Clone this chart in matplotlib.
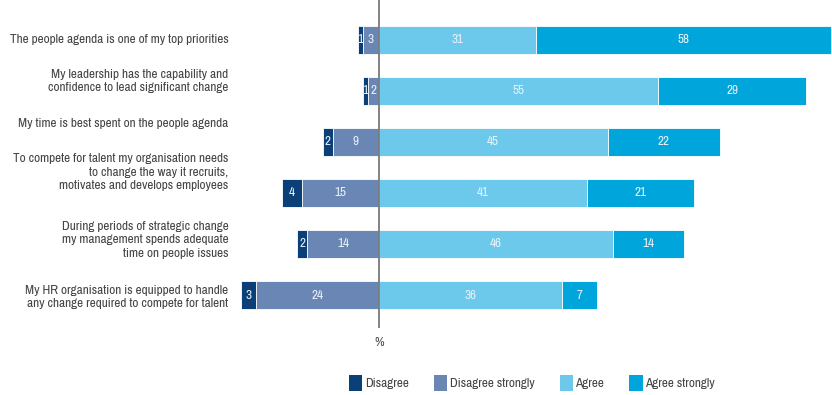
import matplotlib
matplotlib.use("Agg")
import matplotlib.pyplot as plt
from matplotlib import font_manager
from matplotlib.patches import Patch

statements = [
    "The people agenda is one of my top priorities",
    "My leadership has the capability and\nconfidence to lead significant change",
    "My time is best spent on the people agenda",
    "To compete for talent my organisation needs\nto change the way it recruits,\nmotivates and develops employees",
    "During periods of strategic change\nmy management spends adequate\ntime on people issues",
    "My HR organisation is equipped to handle\nany change required to compete for talent",
]
disagree = [1, 1, 2, 4, 2, 3]
disagree_strongly = [3, 2, 9, 15, 14, 24]
agree = [31, 55, 45, 41, 46, 36]
agree_strongly = [58, 29, 22, 21, 14, 7]

series_names = ["Disagree", "Disagree strongly", "Agree", "Agree strongly"]
colors = ["#0b3f78", "#6a86b4", "#6cc9eb", "#00a5dc"]

# statement labels don't sit exactly on their bars; vertical nudge in row units
label_shift = [0.0, -0.19, -0.37, -0.41, -0.08, 0.04]

# narrow sans face, first one installed wins
installed = {f.name for f in font_manager.fontManager.ttflist}
narrow_pref = ["Liberation Sans Narrow", "Archivo Narrow", "PT Sans Narrow",
               "Roboto Condensed", "Pragati Narrow", "Open Sans Condensed"]
narrow = [n for n in narrow_pref if n in installed]
plt.rcParams["font.family"] = narrow[:1] + ["Liberation Sans", "DejaVu Sans"]
text_grey = "#444444"

fig = plt.figure(figsize=(8.32, 3.95), dpi=100)
W, H = 832, 395
ax = fig.add_axes([231 / W, 1 - 328 / H, (W - 231) / W, 328 / H])

rows = list(range(len(statements)))
bar_h = 0.53
edge = dict(edgecolor="white", linewidth=0.6)

# left side: strongly-disagree sits next to the axis, plain disagree outside it
ax.barh(rows, [-v for v in disagree_strongly], height=bar_h, color=colors[1], **edge)
ax.barh(rows, [-v for v in disagree], left=[-v for v in disagree_strongly],
        height=bar_h, color=colors[0], **edge)
ax.barh(rows, agree, height=bar_h, color=colors[2], **edge)
ax.barh(rows, agree_strongly, left=agree, height=bar_h, color=colors[3], **edge)

lab = dict(color="#e8f1f9", fontsize=9.5, ha="center", va="center")
for i in rows:
    ds, d, a, s = disagree_strongly[i], disagree[i], agree[i], agree_strongly[i]
    ax.text(-ds / 2, i, str(ds), **lab)
    ax.text(-ds - d / 2, i, str(d), **lab)
    ax.text(a / 2, i, str(a), **lab)
    ax.text(a + s / 2, i, str(s), **lab)
    ax.text(-29.5, i + label_shift[i], statements[i], ha="right", va="center",
            fontsize=9.5, color=text_grey, linespacing=1.25)

ax.axvline(0, color="#7a7a7a", linewidth=1.3)
ax.set_xlim(-29, 89.1)
ax.set_ylim(5.647, -0.784)
ax.axis("off")

fig.text(379 / W, 1 - 342 / H, "%", ha="center", va="center",
         fontsize=9.5, color=text_grey)

handles = [Patch(facecolor=c, edgecolor="none") for c in colors]
fig.legend(handles, series_names, loc="center", bbox_to_anchor=(532 / W, 1 - 383 / H),
           ncol=4, frameon=False, fontsize=9.5, labelcolor=text_grey,
           handlelength=1.0, handleheight=1.5, handletextpad=0.2,
           columnspacing=1.9)

fig.savefig("out.png", dpi=100)
